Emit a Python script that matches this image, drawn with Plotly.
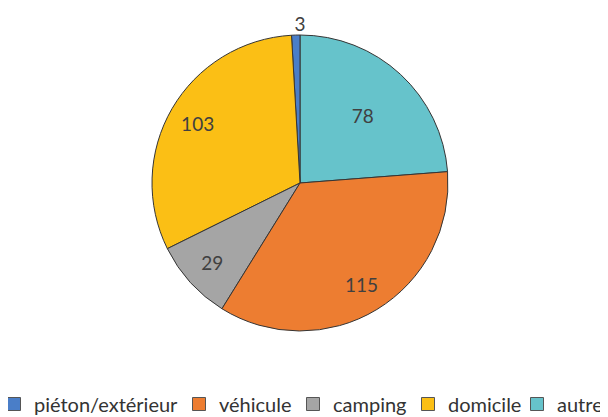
"""Camembert — répartition des cas par lieu."""

import plotly.graph_objects as go

# ---------------------------------------------------------------------------
# Data
# ---------------------------------------------------------------------------

# ordre des parts (la première part démarre à midi, puis sens antihoraire)
slice_labels = ['autre', 'piéton/extérieur', 'domicile', 'camping', 'véhicule']
slice_values = [78, 3, 103, 29, 115]

# ordre de la légende
legend_labels = ['piéton/extérieur', 'véhicule', 'camping', 'domicile', 'autre']

colors = {
    'piéton/extérieur': '#4A7EC8',
    'véhicule': '#ED7D31',
    'camping': '#A5A5A5',
    'domicile': '#FBBF15',
    'autre': '#66C3CB',
}

W, H = 608, 417
OFF = 8  # the page body margin shifts the figure by 8 px
TEXT_COLOR = '#404040'
FONT = 'Lato, Open Sans, sans-serif'
CLEAR = 'rgba(0,0,0,0)'


def _domain(x0, x1, y0, y1):
    """Pie domain from screen pixel bounds."""
    return dict(x=[(x0 - OFF) / W, (x1 - OFF) / W],
                y=[1 - (y1 - OFF) / H, 1 - (y0 - OFF) / H])


# circle box of the pie, and the taller box that also holds the title
circle_domain = _domain(152, 448, 35, 331)
titled_domain = _domain(152, 448, 8, 335)

# legend entries: left edge of each legend box (figure pixels)
legend_x = [-14, 171, 285, 400, 509]
LEGEND_Y = 404 - OFF

fig = go.Figure()

# the pie itself; the tiny slice's value sits centred above it
fig.add_trace(go.Pie(
    labels=slice_labels,
    values=slice_values,
    sort=False,
    direction='counterclockwise',
    marker=dict(colors=[colors[c] for c in slice_labels],
                line=dict(color='#353535', width=1)),
    textinfo='none',
    title=dict(text=str(slice_values[slice_labels.index('piéton/extérieur')]),
               position='top center',
               font=dict(size=19, color=TEXT_COLOR, family=FONT)),
    domain=titled_domain,
    showlegend=False,
    hoverinfo='label+value',
))


def _label_pie(hole, templates, positions):
    """Transparent overlay pie used only to place the value labels."""
    return go.Pie(
        labels=slice_labels,
        values=slice_values,
        sort=False,
        direction='counterclockwise',
        hole=hole,
        marker=dict(colors=[CLEAR] * len(slice_labels), line=dict(width=0)),
        texttemplate=templates,
        textposition=positions,
        insidetextorientation='horizontal',
        textfont=dict(size=19, color=TEXT_COLOR, family=FONT),
        insidetextfont=dict(size=19, color=TEXT_COLOR, family=FONT),
        domain=circle_domain,
        showlegend=False,
        hoverinfo='skip',
    )


# large slice at top right: label closer to the centre
fig.add_trace(_label_pie(
    0.25,
    ['%{value}', '', '', '', ''],
    ['inside', 'none', 'none', 'none', 'none'],
))
# the other slices: labels toward the rim
fig.add_trace(_label_pie(
    0.6,
    ['', '', '%{value}', '%{value}', '%{value}'],
    ['none', 'none', 'inside', 'inside', 'inside'],
))

# legend: one hidden marker trace per category, each in its own legend
legends = {}
for i, (name, lx) in enumerate(zip(legend_labels, legend_x)):
    key = 'legend' if i == 0 else f'legend{i + 1}'
    fig.add_trace(go.Scatter(
        x=[None],
        y=[None],
        mode='markers',
        name=name,
        marker=dict(symbol='square', size=13, color=colors[name],
                    line=dict(color='#555555', width=1)),
        legend=key,
        hoverinfo='skip',
    ))
    legends[key] = dict(
        x=lx / W,
        xanchor='left',
        y=1 - LEGEND_Y / H,
        yanchor='middle',
        orientation='h',
        bgcolor=CLEAR,
        borderwidth=0,
        font=dict(size=20, color='#333333', family=FONT),
        itemwidth=30,
    )

fig.update_layout(
    width=W,
    height=H,
    margin=dict(l=0, r=0, t=0, b=0, autoexpand=False),
    paper_bgcolor='white',
    plot_bgcolor='white',
    font=dict(family=FONT, color=TEXT_COLOR),
    showlegend=True,
    xaxis=dict(visible=False),
    yaxis=dict(visible=False),
    **legends,
)

fig.write_html('out.html')
